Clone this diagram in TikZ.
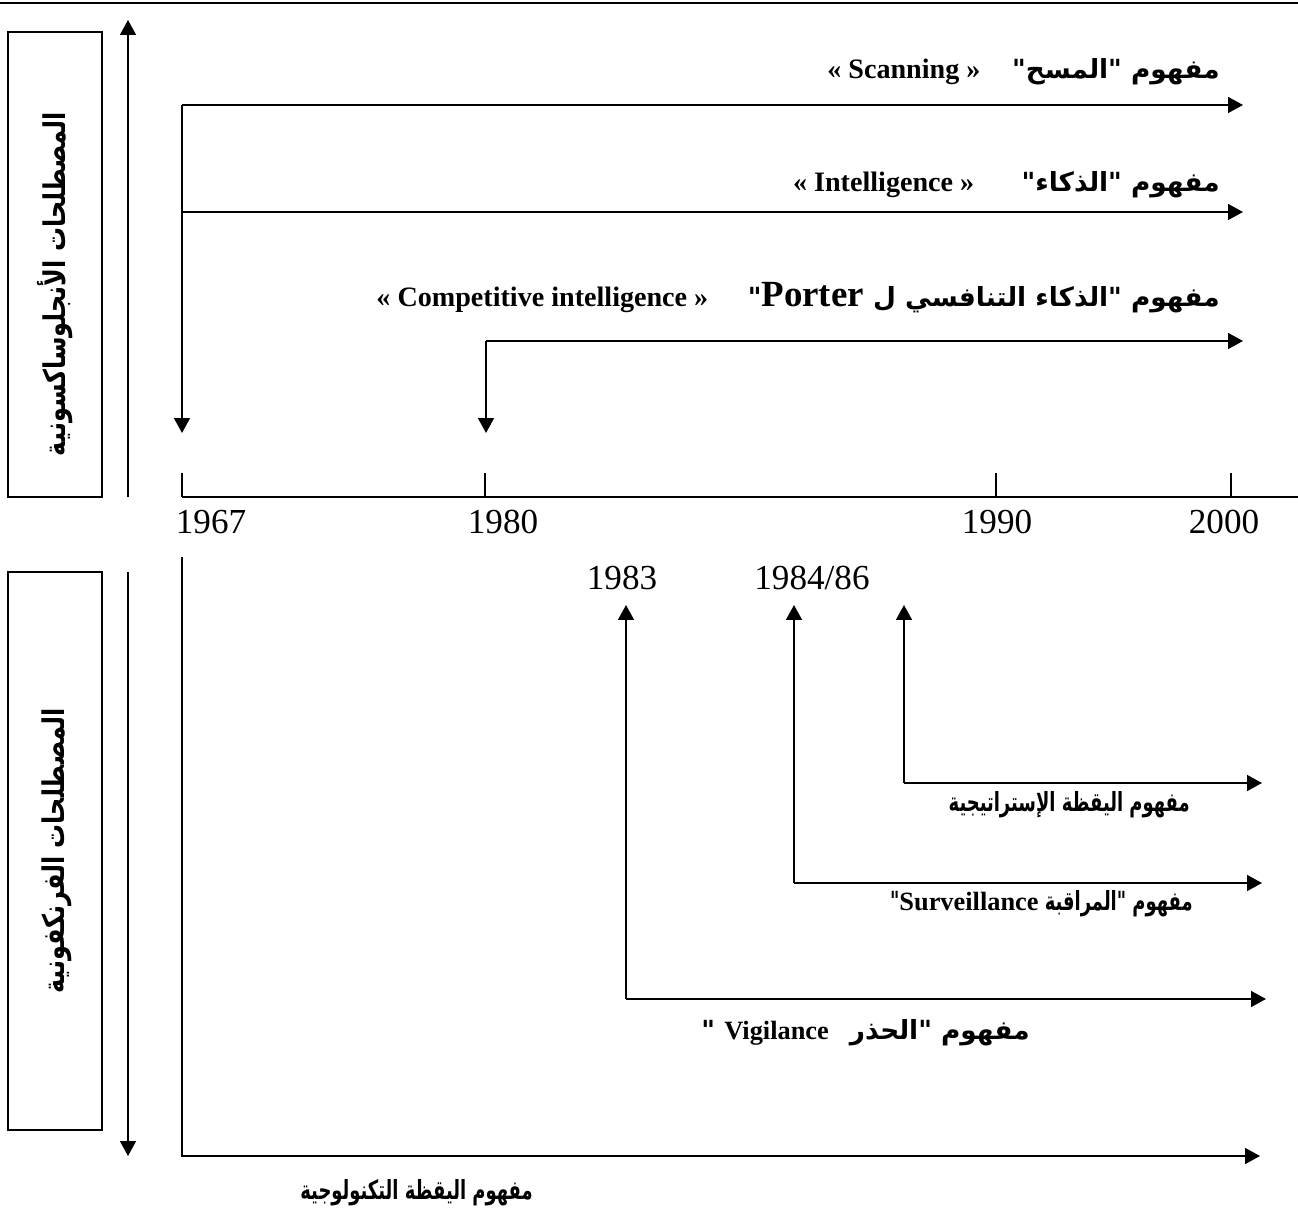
\documentclass[tikz,border=0pt]{standalone}
\usepackage{fontspec}
\setmainfont{Liberation Serif}
\newfontfamily\arabicfont[Script=Arabic]{DejaVu Sans}
\newfontfamily\arabicnarrow[Script=Arabic,FakeStretch=0.8]{DejaVu Sans}
\newfontfamily\arabicslim[Script=Arabic,FakeStretch=0.68]{DejaVu Sans}
\usetikzlibrary{arrows.meta}
\TeXXeTstate=1
\newcommand{\lat}[1]{\beginL{\rmfamily\bfseries #1}\endL}

\begin{document}
\begin{tikzpicture}[x=0.02cm,y=-0.02cm,
  arrow/.style={-{Triangle[length=8.5pt,width=9pt]},line width=1.1pt},
  tick/.style={line width=0.6pt},
  frame/.style={draw,line width=1pt,minimum width=1.88cm,inner sep=0pt},
  side/.style={font=\arabicnarrow\bfseries\fontsize{17}{20}\selectfont,rotate=90,inner sep=0pt},
  concept/.style={font=\arabicfont\bfseries\fontsize{15}{18}\selectfont,inner sep=0pt,anchor=east},
  watch/.style={font=\arabicslim\bfseries\fontsize{15}{18}\selectfont,inner sep=0pt,anchor=east},
  year/.style={font=\fontsize{20}{24}\selectfont,inner sep=0pt}
]
\useasboundingbox (0,0) rectangle (1298,1222);
\draw[line width=1pt] (0,3) -- (1298,3);

\node[frame,minimum height=9.3cm] (angloBox) at (55,264.5) {};
\node[side] (angloLbl) at (55,284) {\beginR المصطلحات الأنجلوساكسونية\endR};
\node[frame,minimum height=11.16cm] (francoBox) at (55,851) {};
\node[side] (francoLbl) at (57,851) {\beginR المصطلحات الفرنكفونية\endR};
\coordinate (upFrom) at (128,497);
\coordinate (upTo) at (128,20);
\coordinate (downFrom) at (128,572);
\coordinate (downTo) at (128,1156);
\draw[arrow] (upFrom) -- (upTo);
\draw[arrow] (downFrom) -- (downTo);

\coordinate (scanCorner) at (182,105);
\coordinate (scanEnd) at (1243,105);
\coordinate (scanDown) at (182,433);
\coordinate (intelStart) at (182,212);
\coordinate (intelEnd) at (1243,212);
\coordinate (compCorner) at (486,341);
\coordinate (compEnd) at (1243,341);
\coordinate (compDown) at (486,433);
\draw[arrow] (scanCorner) -- (scanEnd);
\draw[arrow] (scanCorner) -- (scanDown);
\draw[arrow] (intelStart) -- (intelEnd);
\draw[arrow] (compCorner) -- (compEnd);
\draw[arrow] (compCorner) -- (compDown);

\node[concept] (scan) at (1220,72) {\beginR مفهوم "المسح"\hspace{1.2em}\lat{\fontsize{16}{18}\selectfont « Scanning »}\endR};
\node[concept] (intel) at (1220,185) {\beginR مفهوم "الذكاء"\hspace{1.8em}\lat{\fontsize{16}{18}\selectfont « Intelligence »}\endR};
\node[concept] (porter) at (1220,298) {\beginR مفهوم "الذكاء التنافسي ل \lat{\fontsize{21}{24}\selectfont Porter}"\hspace{1.5em}\lat{\fontsize{16}{18}\selectfont « Competitive intelligence »}\endR};

\coordinate (axisStart) at (182,497);
\coordinate (axisEnd) at (1298,497);
\draw[line width=1pt] (axisStart) -- (axisEnd);
\foreach \t in {182,485,996,1231}
  \draw[tick] (\t,473) -- (\t,497);
\node[year] (y67) at (211,522) {1967};
\node[year] (y80) at (503,522) {1980};
\node[year] (y90) at (997,522) {1990};
\node[year] (y00) at (1224,522) {2000};
\node[year] (y83) at (622,578) {1983};
\node[year] (y84) at (812,578) {1984/86};

\coordinate (techTop) at (182,557);
\coordinate (techCorner) at (182,1156);
\coordinate (techEnd) at (1260,1156);
\draw[arrow] (techTop) -- (techCorner) -- (techEnd);
\coordinate (vigCorner) at (626,999);
\coordinate (vigUp) at (626,605);
\coordinate (vigEnd) at (1266,999);
\draw[arrow] (vigCorner) -- (vigUp);
\draw[arrow] (vigCorner) -- (vigEnd);
\coordinate (survCorner) at (794,883);
\coordinate (survUp) at (794,605);
\coordinate (survEnd) at (1262,883);
\draw[arrow] (survCorner) -- (survUp);
\draw[arrow] (survCorner) -- (survEnd);
\coordinate (stratCorner) at (904,783);
\coordinate (stratUp) at (904,605);
\coordinate (stratEnd) at (1262,783);
\draw[arrow] (stratCorner) -- (stratUp);
\draw[arrow] (stratCorner) -- (stratEnd);

\node[watch] (strat) at (1190,805) {\beginR مفهوم اليقظة الإستراتيجية\endR};
\node[watch] (surv) at (1193,904) {\beginR مفهوم "المراقبة \lat{\fontsize{15}{18}\selectfont Surveillance}"\endR};
\node[concept] (vigil) at (1030,1033) {\beginR مفهوم "الحذر\hspace{0.8em}\lat{\fontsize{15}{18}\selectfont Vigilance} "\endR};
\node[watch] (techno) at (533,1193) {\beginR مفهوم اليقظة التكنولوجية\endR};
\end{tikzpicture}
\end{document}
